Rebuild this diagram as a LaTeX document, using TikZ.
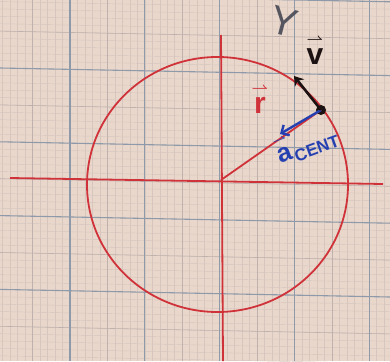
\documentclass[tikz,border=0pt]{standalone}
\usepackage{amsmath}
\usepackage{fontspec}
\setmainfont{Liberation Sans}
\usetikzlibrary{arrows.meta}
\definecolor{paper}{HTML}{EAD7CB}
\definecolor{minorline}{HTML}{D6C6BE}
\definecolor{midline}{HTML}{BFB2AE}
\definecolor{majorline}{HTML}{8E9AAA}
\definecolor{redink}{HTML}{D0323A}
\definecolor{blueink}{HTML}{2540B0}
\definecolor{blackink}{HTML}{1C1212}
\definecolor{greyink}{HTML}{55555F}
\tikzset{
  minorgrid/.style={draw=minorline, line width=0.45pt},
  midgrid/.style={draw=midline, line width=0.6pt},
  majorgrid/.style={draw=majorline, line width=1.1pt},
  redline/.style={draw=redink, line width=1.8pt},
  vecv/.style={draw=blackink, line width=2.6pt, -{Stealth[length=9pt,width=12pt]}},
  veca/.style={draw=blueink, line width=2.4pt, -{Straight Barb[length=6pt,width=12pt]}},
  pointdot/.style={circle, fill=blackink, minimum size=10pt, inner sep=0pt},
  lbl/.style={inner sep=0pt, font=\bfseries\fontsize{30}{30}\selectfont}
}
\newcommand{\hvec}[1]{\overset{\scriptscriptstyle\boldsymbol{\rightharpoonup}}{\text{#1}}}
\begin{document}
\begin{tikzpicture}[x=1pt,y=-1pt]
\useasboundingbox (0,0) rectangle (390,361);
\fill[paper] (0,0) rectangle (390,361);
% graph paper: vertical lines straight, horizontal lines slightly sloped
\foreach \k in {-10,...,43} {
  \draw[minorgrid] ({70+7.48*\k},0) -- ({70+7.48*\k},361);
}
\foreach \k in {-12,...,42} {
  \draw[minorgrid] (0,{68+7.38*\k}) -- (390,{75.6+7.38*\k});
}
\foreach \k in {-1,...,4} {
  \draw[midgrid] ({32.6+74.8*\k},0) -- ({32.6+74.8*\k},361);
  \draw[midgrid] (0,{31.1+73.8*\k}) -- (390,{38.7+73.8*\k});
}
\foreach \k in {0,...,4} {
  \draw[majorgrid] ({70+74.8*\k},0) -- ({70+74.8*\k},361);
}
\foreach \k in {-1,...,4} {
  \draw[majorgrid] (0,{68+73.8*\k}) -- (390,{75.6+73.8*\k});
}
% axes
\coordinate (xl) at (10,178);
\coordinate (xr) at (383,184);
\coordinate (yt) at (221,35);
\coordinate (yb) at (223,361);
\coordinate (O) at (221,180);
\draw[redline] (xl) -- (xr);
\draw[redline] (yt) -- (yb);
% circle
\draw[redline] (217.5,184.5) ellipse [x radius=130.5, y radius=127.5];
% point and vectors
\node[pointdot] (P) at (321,110) {};
\coordinate (vtip) at (294,76);
\coordinate (atip) at (280,134);
\draw[redline] (O) -- (P.center);
\draw[veca] (P.center) -- (atip);
\draw[vecv] (P.center) -- (vtip);
% labels
\node[lbl, text=redink] (rlab) at (260,99) {$\hvec{r}$};
\node[lbl, text=blackink] (vlab) at (315,50) {$\hvec{v}$};
\node[inner sep=0pt, text=greyink, rotate=-15, font=\fontsize{40}{40}\selectfont] (ylab) at (284,22) {Y};
\node[inner sep=0pt, text=blueink, rotate=20, anchor=base west, font=\bfseries] (alab) at (280,164)
  {\fontsize{26}{26}\selectfont$\hvec{a}$\hspace{2pt}\raisebox{-4pt}{\fontsize{17}{17}\selectfont CENT}};
\end{tikzpicture}
\end{document}
